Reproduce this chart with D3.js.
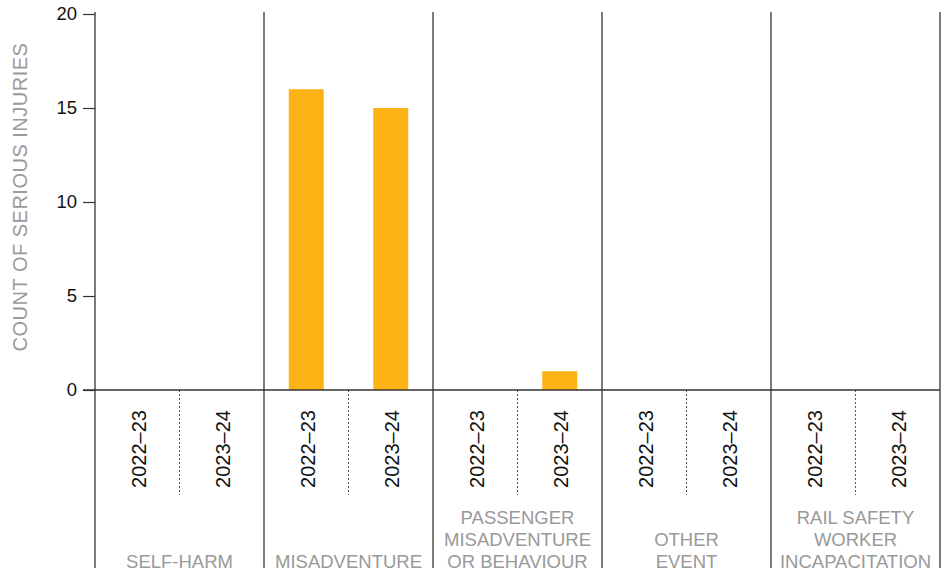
<!DOCTYPE html>
<html>
<head>
<meta charset="utf-8">
<script src="https://cdn.jsdelivr.net/npm/d3@7"></script>
<style>
  html, body { margin: 0; padding: 0; background: #fff; }
  svg { display: block; font-family: "Liberation Sans", Arial, sans-serif; }
</style>
</head>
<body>
<svg id="chart" width="947" height="576"></svg>
<script>
const categories = ["SELF-HARM", "MISADVENTURE", "PASSENGER MISADVENTURE OR BEHAVIOUR", "OTHER EVENT", "RAIL SAFETY WORKER INCAPACITATION"];
const categoryLines = [["SELF-HARM"], ["MISADVENTURE"], ["PASSENGER", "MISADVENTURE", "OR BEHAVIOUR"], ["OTHER", "EVENT"], ["RAIL SAFETY", "WORKER", "INCAPACITATION"]];
const years = ["2022–23", "2023–24"];
const values2022_23 = [0, 16, 0, 0, 0];
const values2023_24 = [0, 15, 1, 0, 0];
const yTicks = [0, 5, 10, 15, 20];
const yTitle = "COUNT OF SERIOUS INJURIES";

const seriesByYear = { "2022–23": values2022_23, "2023–24": values2023_24 };

const svg = d3.select("#chart");
const mLeft = 95, mRight = 940, mTop = 12, mBottom = 568;

const x0 = d3.scaleBand().domain(categories).range([mLeft, mRight]).padding(0);
const x1 = d3.scaleBand().domain(years).range([0, x0.bandwidth()]).paddingInner(0.586).paddingOuter(0.293);
const y = d3.scaleLinear().domain([0, 20]).range([390, 14]);

// Bars
const barData = [];
categories.forEach((c, i) => years.forEach(yr => barData.push({ c, yr, v: seriesByYear[yr][i] })));
svg.append("g").selectAll("rect").data(barData.filter(d => d.v > 0)).join("rect")
  .attr("x", d => x0(d.c) + x1(d.yr))
  .attr("width", x1.bandwidth())
  .attr("y", d => y(d.v))
  .attr("height", d => y(0) - y(d.v))
  .attr("fill", "#FDB316");

// Panel separators
const bounds = categories.map(c => x0(c)).concat([mRight]);
svg.append("g").selectAll("line").data(bounds).join("line")
  .attr("x1", d => d).attr("x2", d => d)
  .attr("y1", mTop).attr("y2", mBottom)
  .attr("stroke", "#333").attr("stroke-width", 1.3);

// Dashed separators between years
svg.append("g").selectAll("line").data(categories).join("line")
  .attr("x1", d => x0(d) + x0.bandwidth() / 2).attr("x2", d => x0(d) + x0.bandwidth() / 2)
  .attr("y1", y(0)).attr("y2", 495)
  .attr("stroke", "#555").attr("stroke-width", 1).attr("stroke-dasharray", "2,2");

// Baseline
svg.append("line")
  .attr("x1", mLeft - 12).attr("x2", mRight)
  .attr("y1", y(0)).attr("y2", y(0))
  .attr("stroke", "#333").attr("stroke-width", 1.3);

// Y axis
const yAxis = svg.append("g").attr("transform", `translate(${mLeft},0)`)
  .call(d3.axisLeft(y).tickValues(yTicks).tickSize(12).tickPadding(6).tickFormat(d3.format("d")));
yAxis.select(".domain").remove();
yAxis.selectAll(".tick line").attr("stroke", "#333").attr("stroke-width", 1.2);
yAxis.selectAll(".tick text").attr("font-size", "18.5px").attr("fill", "#111")
  .attr("font-family", "\"Liberation Sans\", Arial, sans-serif");

// Y title
svg.append("text")
  .attr("transform", "translate(20,197) rotate(-90)")
  .attr("text-anchor", "middle").attr("dy", "0.35em")
  .attr("font-size", "20px").attr("letter-spacing", "0.5px").attr("fill", "#9a9a9a")
  .text(yTitle);

// Year labels
const yearLabels = [];
categories.forEach(c => years.forEach(yr => yearLabels.push({ c, yr })));
svg.append("g").selectAll("text").data(yearLabels).join("text")
  .attr("transform", d => `translate(${x0(d.c) + x1(d.yr) + x1.bandwidth() / 2 + 1.5},449) rotate(-90)`)
  .attr("text-anchor", "middle").attr("dy", "0.35em")
  .attr("font-size", "20px").attr("fill", "#111")
  .text(d => d.yr);

// Category labels
const catG = svg.append("g").selectAll("text").data(categories).join("text")
  .attr("text-anchor", "middle").attr("font-size", "18.5px").attr("fill", "#999");
catG.each(function(c, i) {
  const lines = categoryLines[i];
  const n = lines.length;
  d3.select(this).selectAll("tspan").data(lines).join("tspan")
    .attr("x", x0(c) + x0.bandwidth() / 2)
    .attr("y", (d, j) => 568 - (n - 1 - j) * 22)
    .text(d => d);
});
</script>
</body>
</html>
